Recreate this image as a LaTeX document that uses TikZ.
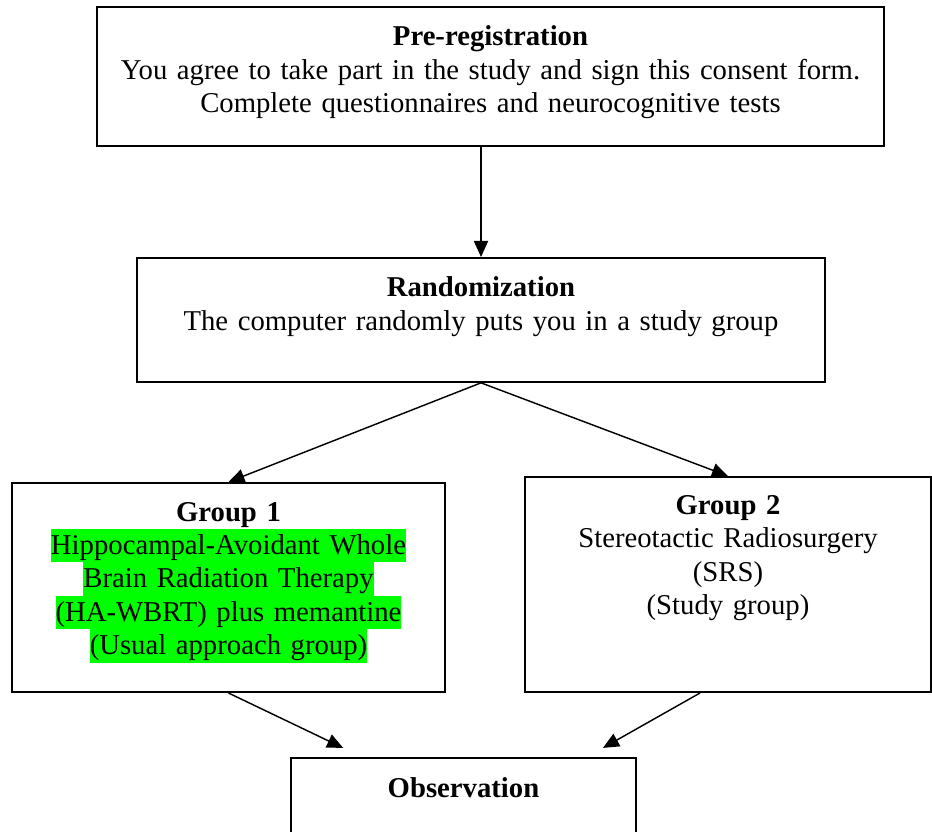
\documentclass[tikz,border=0pt]{standalone}
\usepackage{fontspec}
\setmainfont{Liberation Serif}
\usetikzlibrary{arrows.meta}
\definecolor{hlgreen}{RGB}{0,255,0}
\newcommand{\hlline}[1]{{\setlength{\fboxsep}{0pt}\colorbox{hlgreen}{\rule[-3.3pt]{0pt}{14pt}#1}}}

\begin{document}
\begin{tikzpicture}[x=0.418pt,y=-0.418pt,
		box/.style={draw,line width=0.8pt,anchor=north,inner sep=0pt,align=center,
			font=\fontsize{12}{14}\selectfont},
		arr/.style={line width=0.6pt,-{Triangle[length=6.7pt,width=5.9pt]}}]
	\useasboundingbox (0,0) rectangle (932,831);
	\clip (0,0) rectangle (932,831);
	\node[box,text width=329pt,text height=16.3pt,text depth=41.8pt] (prereg) at (490.5,6)
		{\textbf{Pre-registration}\\
		You agree to take part in the study and sign this consent form.\\
		Complete questionnaires and neurocognitive tests};
	\node[box,text width=287.6pt,text height=16.3pt,text depth=35.5pt] (rand) at (481,257)
		{\textbf{Randomization}\\
		The computer randomly puts you in a study group};
	\node[box,text width=181pt,text height=15.9pt,text depth=71.5pt] (grpA) at (228.5,482)
		{\textbf{Group 1}\\
		\hlline{Hippocampal-Avoidant Whole}\\
		\hlline{Brain Radiation Therapy}\\
		\hlline{(HA-WBRT) plus memantine}\\
		\hlline{(Usual approach group)}};
	\node[box,text width=169.7pt,text height=15.5pt,text depth=74.4pt] (grpB) at (728,476)
		{\textbf{Group 2}\\
		Stereotactic Radiosurgery\\
		(SRS)\\
		(Study group)};
	\node[box,text width=144.2pt,text height=16.7pt,text depth=30pt] (obs) at (463.5,757)
		{\textbf{Observation}};
	% arrows
	\draw[arr] (prereg.south -| rand.north) -- (rand.north);
	\foreach \g in {grpA,grpB}
		{\draw[arr] (rand.south) -- (\g.north);}
	\draw[arr] (grpA.south) -- ([xshift=22.2pt,yshift=3.8pt]obs.north west);
	\draw[arr] ([xshift=-11.7pt]grpB.south) -- ([xshift=-14.2pt,yshift=3.8pt]obs.north east);
\end{tikzpicture}
\end{document}
